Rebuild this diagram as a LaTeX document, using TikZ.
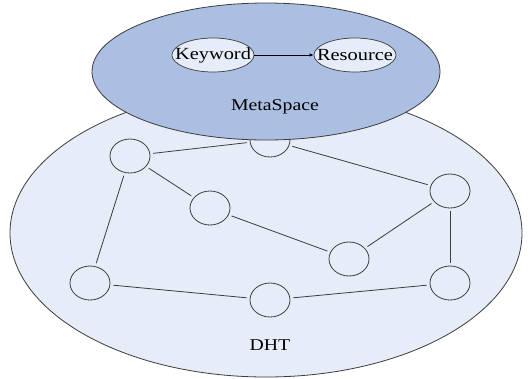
\documentclass[tikz,border=0pt]{standalone}
\usepackage{fontspec}
\setmainfont{Liberation Serif}
\usetikzlibrary{shapes.geometric,arrows.meta}
\definecolor{metafill}{RGB}{170,191,225}
\definecolor{dhtfill}{RGB}{230,236,248}
\definecolor{edgegray}{RGB}{60,60,60}
\newcommand{\wtext}[1]{\scalebox{1.2}[1]{#1}}
\tikzset{
  peer/.style={ellipse, draw=edgegray, fill=dhtfill, line width=0.8pt,
    minimum width=40pt, minimum height=34pt, inner sep=0pt},
  link/.style={draw=edgegray, line width=0.8pt, shorten <=3pt, shorten >=3pt},
  keynode/.style={ellipse, draw=edgegray, fill=dhtfill, line width=0.7pt,
    minimum width=82pt, minimum height=34pt, inner ysep=0pt, inner xsep=-12pt,
    font=\fontsize{17}{19}\selectfont},
  label/.style={font=\fontsize{16.5}{18}\selectfont, inner sep=0pt}
}
\begin{document}
\begin{tikzpicture}[x=1pt,y=-1pt]
\useasboundingbox (0,0) rectangle (530,378);
% DHT overlay
\node[ellipse, draw=edgegray, fill=dhtfill, line width=0.8pt,
  minimum width=512pt, minimum height=288pt, inner sep=0pt] (dht) at (266,233) {};
\node[label] (dhtlabel) at (270,345) {\wtext{DHT}};
% peers
\node[peer] (pa) at (130,156) {};
\node[peer] (pb) at (270,140) {};
\node[peer] (pc) at (210,208) {};
\node[peer] (pd) at (450,191) {};
\node[peer] (pe) at (349,259) {};
\node[peer] (pf) at (90,283) {};
\node[peer] (pg) at (270,300) {};
\node[peer] (ph) at (450,283) {};
% ring links
\draw[link] (pa) -- (pb);
\draw[link] (pb) -- (pd);
\draw[link] (pa) -- (pc);
\draw[link] (pc) -- (pe);
\draw[link] (pe) -- (pd);
\draw[link] (pd) -- (ph);
\draw[link] (pa) -- (pf);
\draw[link] (pf) -- (pg);
\draw[link] (pg) -- (ph);
% MetaSpace layer
\node[ellipse, draw=edgegray, fill=metafill, line width=0.8pt,
  minimum width=348pt, minimum height=137pt, inner sep=0pt] (meta) at (266,71.5) {};
\node[label] (metalabel) at (275,107) {\wtext{MetaSpace}};
\node[keynode] (kw) at (213,55) {\wtext{Keyword}};
\node[keynode] (res) at (355,55) {\wtext{Resource}};
\draw[-{Latex[length=4pt,width=3.5pt]}, line width=0.8pt, black] (kw) -- (res);
\end{tikzpicture}
\end{document}
